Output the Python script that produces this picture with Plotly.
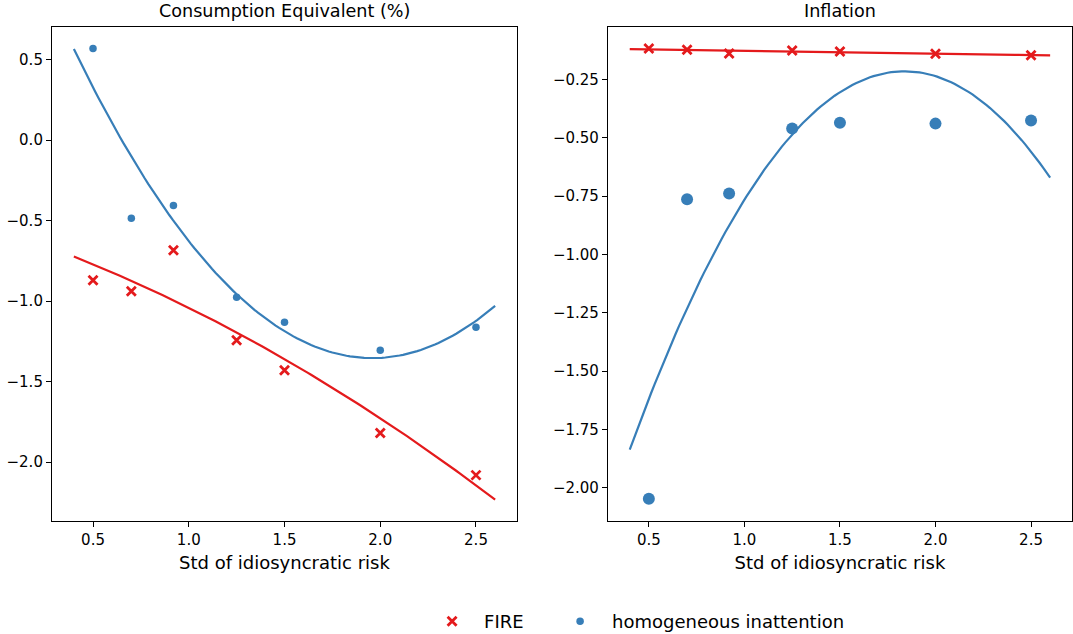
import numpy as np
import plotly.graph_objects as go

# Standard deviation of idiosyncratic risk
risk_std = [0.5, 0.7, 0.92, 1.25, 1.5, 2.0, 2.5]

# Consumption equivalent (%)
ce_fire = [-0.871, -0.939, -0.685, -1.243, -1.429, -1.820, -2.081]
ce_inatt = [0.568, -0.486, -0.406, -0.976, -1.131, -1.305, -1.162]

# Inflation
infl_fire = [-0.117, -0.122, -0.139, -0.126, -0.130, -0.140, -0.146]
infl_inatt = [-2.047, -0.763, -0.738, -0.460, -0.435, -0.439, -0.426]

RED = "#e41a1c"
BLUE = "#377eb8"
FONT = "DejaVu Sans"

fit_x = np.linspace(0.4, 2.6, 120)


def quad_fit(x, y):
    coef = np.polyfit(x, y, 2)
    return np.polyval(coef, fit_x)


fig = go.Figure()

panels = [
    ("x", "y", ce_fire, ce_inatt, 7.5, True),
    ("x2", "y2", infl_fire, infl_inatt, 12, False),
]

for xa, ya, fire, inatt, dot_size, show in panels:
    fig.add_trace(go.Scatter(
        x=fit_x, y=quad_fit(risk_std, fire), mode="lines",
        line=dict(color=RED, width=2.2), xaxis=xa, yaxis=ya, showlegend=False,
        hoverinfo="skip"))
    fig.add_trace(go.Scatter(
        x=fit_x, y=quad_fit(risk_std, inatt), mode="lines",
        line=dict(color=BLUE, width=2.2), xaxis=xa, yaxis=ya, showlegend=False,
        hoverinfo="skip"))
    fig.add_trace(go.Scatter(
        x=risk_std, y=fire, mode="markers", name="FIRE",
        marker=dict(symbol="x-thin", size=9, color=RED,
                    line=dict(color=RED, width=2.8)),
        xaxis=xa, yaxis=ya, showlegend=show, legend="legend"))
    fig.add_trace(go.Scatter(
        x=risk_std, y=inatt, mode="markers", name="homogeneous inattention",
        marker=dict(symbol="circle", size=dot_size, color=BLUE,
                    line=dict(width=0)),
        xaxis=xa, yaxis=ya, showlegend=show, legend="legend2"))

axis_common = dict(
    showline=True, linecolor="black", linewidth=1.2, mirror=True,
    showgrid=False, zeroline=False, ticks="outside", ticklen=5, tickwidth=1.2,
    tickcolor="black", tickfont=dict(family=FONT, size=15, color="black"),
)

xtick_vals = [0.5, 1.0, 1.5, 2.0, 2.5]
xtitle = dict(text="Std of idiosyncratic risk",
              font=dict(family=FONT, size=18, color="black"), standoff=8)

legend_common = dict(
    orientation="h", y=-0.0095, yanchor="bottom",
    font=dict(family=FONT, size=18, color="black"),
    itemwidth=54, bgcolor="rgba(0,0,0,0)",
)

fig.update_layout(
    width=1073, height=634,
    margin=dict(l=0, r=0, t=0, b=0, autoexpand=False),
    paper_bgcolor="white", plot_bgcolor="white",
    font=dict(family=FONT, color="black"),
    xaxis=dict(domain=[0.0485, 0.4818], range=[0.286, 2.714],
               tickvals=xtick_vals, tickformat=".1f", title=xtitle,
               anchor="y", **axis_common),
    yaxis=dict(domain=[0.1782, 0.9574], range=[-2.366, 0.702],
               tickvals=[0.5, 0.0, -0.5, -1.0, -1.5, -2.0], tickformat=".1f",
               anchor="x", **axis_common),
    xaxis2=dict(domain=[0.5666, 0.999], range=[0.286, 2.714],
                tickvals=xtick_vals, tickformat=".1f", title=xtitle,
                anchor="y2", **axis_common),
    yaxis2=dict(domain=[0.1782, 0.9574], range=[-2.142, -0.025],
                tickvals=[-0.25, -0.5, -0.75, -1.0, -1.25, -1.5, -1.75, -2.0],
                tickformat=".2f", anchor="x2", **axis_common),
    legend=dict(x=0.3915, xanchor="left", **legend_common),
    legend2=dict(x=0.5108, xanchor="left", **legend_common),
    annotations=[
        dict(text="Consumption Equivalent (%)", x=0.2651, y=1 - 11 / 634,
             xref="paper", yref="paper", showarrow=False, xanchor="center",
             yanchor="middle", font=dict(family=FONT, size=17.6, color="black")),
        dict(text="Inflation", x=0.7828, y=1 - 11 / 634,
             xref="paper", yref="paper", showarrow=False, xanchor="center",
             yanchor="middle", font=dict(family=FONT, size=17.6, color="black")),
    ],
)

fig.write_html("out.html")
